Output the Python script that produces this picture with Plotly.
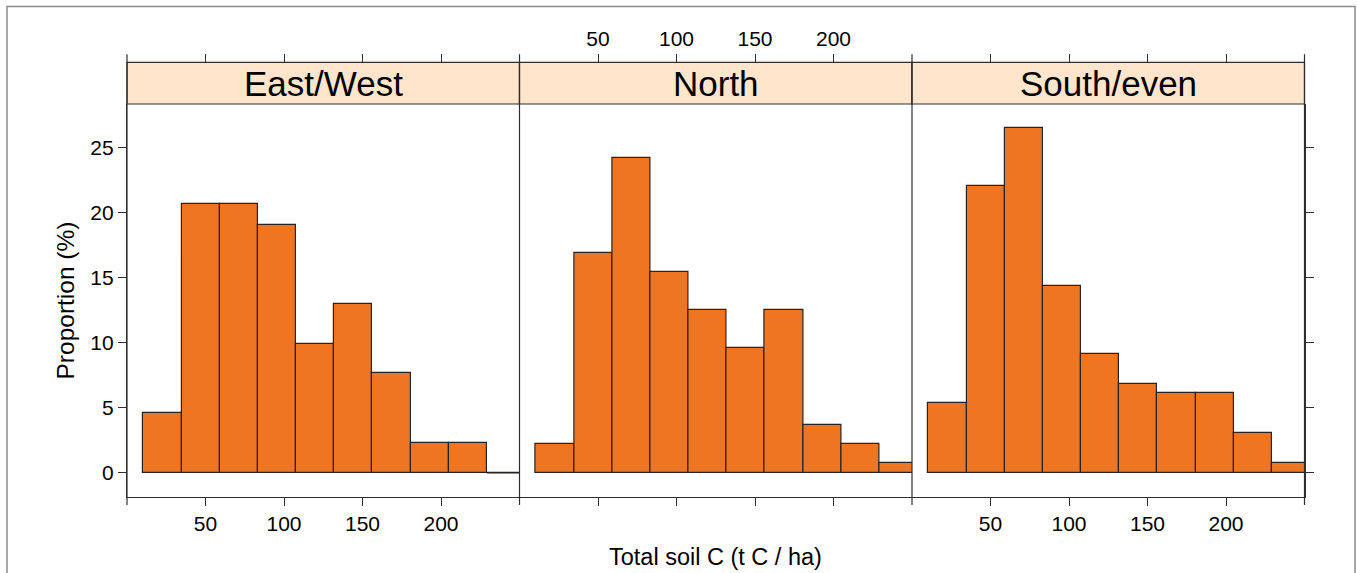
import plotly.graph_objects as go

# ---------------- data ----------------
bin_edges = [10.5, 34.8, 59.1, 83.4, 107.7, 132.0, 156.3, 180.6, 204.9, 229.2, 253.5]
panel_names = ["East/West", "North", "South/even"]
east_west = [4.58, 20.67, 20.67, 19.04, 9.94, 12.98, 7.70, 2.33, 2.33, 0.0]
north = [2.25, 16.91, 24.24, 15.45, 12.53, 9.61, 12.53, 3.68, 2.25, 0.76]
south_even = [5.37, 22.02, 26.52, 14.38, 9.13, 6.85, 6.12, 6.12, 3.09, 0.76]
x_tick_vals = [50, 100, 150, 200]
y_tick_vals = [0, 5, 10, 15, 20, 25]
x_title = "Total soil C (t C / ha)"
y_title = "Proportion (%)"

# ---------------- style / layout ----------------
W, H = 1357, 573
FONT = "Liberation Sans, Arial, sans-serif"
BAR_FILL = "#EE7623"
EDGE = "#2a2220"
AXIS = "#2e2e2e"
STRIP_BG = "#FFE5CC"
panel_px = [127, 519.5, 912, 1304.5]
plot_top_px, plot_bot_px = 104, 497
strip_top_px = 62.3
tick_len = 8
x_range = [0, 250]
y_range = [-1.86, 28.36]


def fx(px):
    return px / W


def fy(py):
    return 1 - py / H


series = [east_west, north, south_even]
centers = [(a + b) / 2 for a, b in zip(bin_edges[:-1], bin_edges[1:])]
widths = [b - a for a, b in zip(bin_edges[:-1], bin_edges[1:])]

fig = go.Figure()
for i, vals in enumerate(series):
    xa = "x" if i == 0 else f"x{i+1}"
    fig.add_trace(go.Bar(
        x=centers, y=vals, width=widths, xaxis=xa, yaxis="y",
        marker=dict(color=BAR_FILL, line=dict(color=EDGE, width=1.2)),
        showlegend=False, hoverinfo="x+y",
    ))
    # zero-height bins are drawn as an outline at 0
    for k, v in enumerate(vals):
        if v == 0:
            fig.add_trace(go.Scatter(
                x=[bin_edges[k], bin_edges[k + 1]], y=[0, 0], xaxis=xa, yaxis="y",
                mode="lines", line=dict(color=EDGE, width=1.2),
                showlegend=False, hoverinfo="skip",
            ))

tick_font = dict(family=FONT, size=21, color="black")
layout = dict(
    width=W, height=H,
    margin=dict(l=0, r=0, t=0, b=0),
    paper_bgcolor="white", plot_bgcolor="white",
    font=dict(family=FONT, color="black"),
    bargap=0,
    showlegend=False,
)

# bottom x axes
for i in range(3):
    key = "xaxis" if i == 0 else f"xaxis{i+1}"
    layout[key] = dict(
        domain=[fx(panel_px[i]), fx(panel_px[i + 1])],
        range=x_range, anchor="y",
        tickmode="array", tickvals=x_tick_vals,
        ticks="outside", ticklen=tick_len, tickwidth=1.2, tickcolor=AXIS,
        showticklabels=(i != 1), tickfont=tick_font,
        showline=True, linecolor=AXIS, linewidth=1.2,
        showgrid=False, zeroline=False,
    )
    # top tick axes at the strip top
    tkey = f"xaxis{i+4}"
    layout[tkey] = dict(
        domain=[fx(panel_px[i]), fx(panel_px[i + 1])],
        range=x_range, anchor="free", position=fy(strip_top_px),
        overlaying="x" if i == 0 else f"x{i+1}",
        side="top",
        tickmode="array", tickvals=x_tick_vals,
        ticks="outside", ticklen=tick_len, tickwidth=1.2, tickcolor=AXIS,
        showticklabels=(i == 1), tickfont=tick_font,
        showline=False, showgrid=False, zeroline=False,
    )

layout["yaxis"] = dict(
    domain=[fy(plot_bot_px), fy(plot_top_px)],
    range=y_range, anchor="x",
    tickmode="array", tickvals=y_tick_vals,
    ticks="outside", ticklen=tick_len, tickwidth=1.2, tickcolor=AXIS,
    tickfont=tick_font, showline=True, linecolor=AXIS, linewidth=1.2,
    showgrid=False, zeroline=False,
)
layout["yaxis2"] = dict(
    domain=[fy(plot_bot_px), fy(plot_top_px)],
    range=y_range, anchor="x3", overlaying="y", side="right",
    tickmode="array", tickvals=y_tick_vals,
    ticks="outside", ticklen=tick_len, tickwidth=1.2, tickcolor=AXIS,
    showticklabels=False, showline=True, linecolor=AXIS, linewidth=1.2,
    showgrid=False, zeroline=False,
)
fig.update_layout(**layout)
# empty traces so the overlay axes render
for i in range(3):
    fig.add_trace(go.Scatter(x=[None], y=[None], xaxis=f"x{i+4}", yaxis="y",
                             showlegend=False, hoverinfo="skip"))
fig.add_trace(go.Scatter(x=[None], y=[None], xaxis="x3", yaxis="y2",
                         showlegend=False, hoverinfo="skip"))

shapes = []
annotations = []
# strips
for i in range(3):
    shapes.append(dict(
        type="rect", xref="paper", yref="paper",
        x0=fx(panel_px[i]), x1=fx(panel_px[i + 1]),
        y0=fy(plot_top_px), y1=fy(strip_top_px),
        fillcolor=STRIP_BG, line=dict(color=AXIS, width=1.2), layer="below",
    ))
    annotations.append(dict(
        xref="paper", yref="paper",
        x=(fx(panel_px[i]) + fx(panel_px[i + 1])) / 2,
        y=(fy(plot_top_px) + fy(strip_top_px)) / 2,
        text=panel_names[i], showarrow=False,
        font=dict(family=FONT, size=35, color="black"),
        xanchor="center", yanchor="middle",
    ))
# panel boundary lines (extending over tick zones)
for px in panel_px:
    shapes.append(dict(
        type="line", xref="paper", yref="paper",
        x0=fx(px), x1=fx(px),
        y0=fy(plot_bot_px + tick_len), y1=fy(strip_top_px - tick_len),
        line=dict(color=AXIS, width=1.2),
    ))
# outer frame
shapes.append(dict(
    type="rect", xref="paper", yref="paper",
    x0=fx(7), x1=fx(1355), y0=fy(600), y1=fy(6.5),
    line=dict(color="#8a8a8a", width=1.5), fillcolor="rgba(0,0,0,0)",
))

annotations.append(dict(
    xref="paper", yref="paper",
    x=(fx(panel_px[0]) + fx(panel_px[3])) / 2, y=fy(557),
    text=x_title, showarrow=False,
    font=dict(family=FONT, size=23.5, color="black"),
    xanchor="center", yanchor="middle",
))
annotations.append(dict(
    xref="paper", yref="paper",
    x=fx(65), y=fy(300.5),
    text=y_title, showarrow=False, textangle=-90,
    font=dict(family=FONT, size=24.5, color="black"),
    xanchor="center", yanchor="middle",
))
fig.update_layout(shapes=shapes, annotations=annotations)

fig.write_html(
    "out.html",
    config={"displayModeBar": False},
    post_script="document.body.style.margin='0px';document.body.style.overflow='hidden';",
)
